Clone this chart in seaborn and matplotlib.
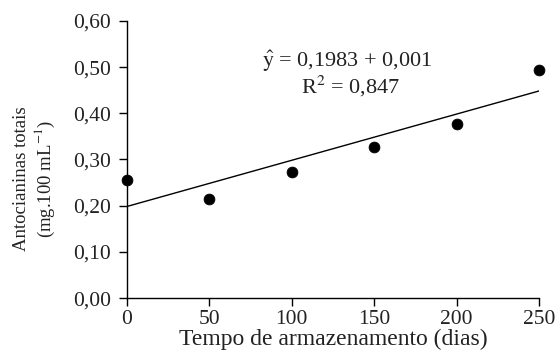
import numpy as np
import pandas as pd
import matplotlib
matplotlib.use("Agg")
import matplotlib.pyplot as plt
import seaborn as sns

# data
dias = [0, 50, 100, 150, 200, 250]
antocianinas = [0.255, 0.214, 0.273, 0.327, 0.377, 0.494]
intercepto = 0.1983
inclinacao = 0.001
y_ticks = [0.0, 0.1, 0.2, 0.3, 0.4, 0.5, 0.6]
y_labels = ["0,00", "0,10", "0,20", "0,30", "0,40", "0,50", "0,60"]
x_ticks = [0, 50, 100, 150, 200, 250]

sns.set_theme(style="ticks")
plt.rcParams["font.family"] = ["Liberation Serif", "DejaVu Serif"]
plt.rcParams["mathtext.fontset"] = "stix"

df = pd.DataFrame({"dias": dias, "ant": antocianinas})
df["ajuste"] = intercepto + inclinacao * df["dias"]

txt = "#222222"

fig = plt.figure(figsize=(5.58, 3.54), dpi=100)
ax = fig.add_axes([0.2276, 0.158, 0.7384, 0.783])

sns.lineplot(data=df, x="dias", y="ajuste", color="black", lw=1.0, ax=ax)
sns.scatterplot(data=df, x="dias", y="ant", color="black", s=60,
                edgecolor="black", zorder=3, clip_on=False, ax=ax)

ax.set_xlim(0, 250)
ax.set_ylim(0, 0.6)
ax.set_xticks(x_ticks)
ax.set_yticks(y_ticks)
ax.set_yticklabels(y_labels)
ax.tick_params(axis="both", direction="out", length=5.5, width=1, color="black",
               labelsize=15.5, labelcolor=txt)
ax.tick_params(axis="y", pad=6)
ax.tick_params(axis="x", pad=3)
for s in ["top", "right"]:
    ax.spines[s].set_visible(False)
for s in ["left", "bottom"]:
    ax.spines[s].set_color("black")
    ax.spines[s].set_linewidth(1.0)

ax.set_xlabel("Tempo de armazenamento (dias)", fontsize=17, color=txt, labelpad=0)
ax.set_ylabel("Antocianinas totais\n(mg.100 mL$^{-1}$)", fontsize=13.5,
              color=txt, linespacing=1.15)
ax.yaxis.set_label_coords(-0.17, 0.43)

ax.text(0.535, 0.855, r"$\hat{\mathrm{y}}$ = 0,1983 + 0,001", transform=ax.transAxes,
        ha="center", va="center", fontsize=16, color=txt)
ax.text(0.543, 0.765, "R$^2$ = 0,847", transform=ax.transAxes,
        ha="center", va="center", fontsize=16, color=txt)

fig.savefig("out.png", dpi=100)
